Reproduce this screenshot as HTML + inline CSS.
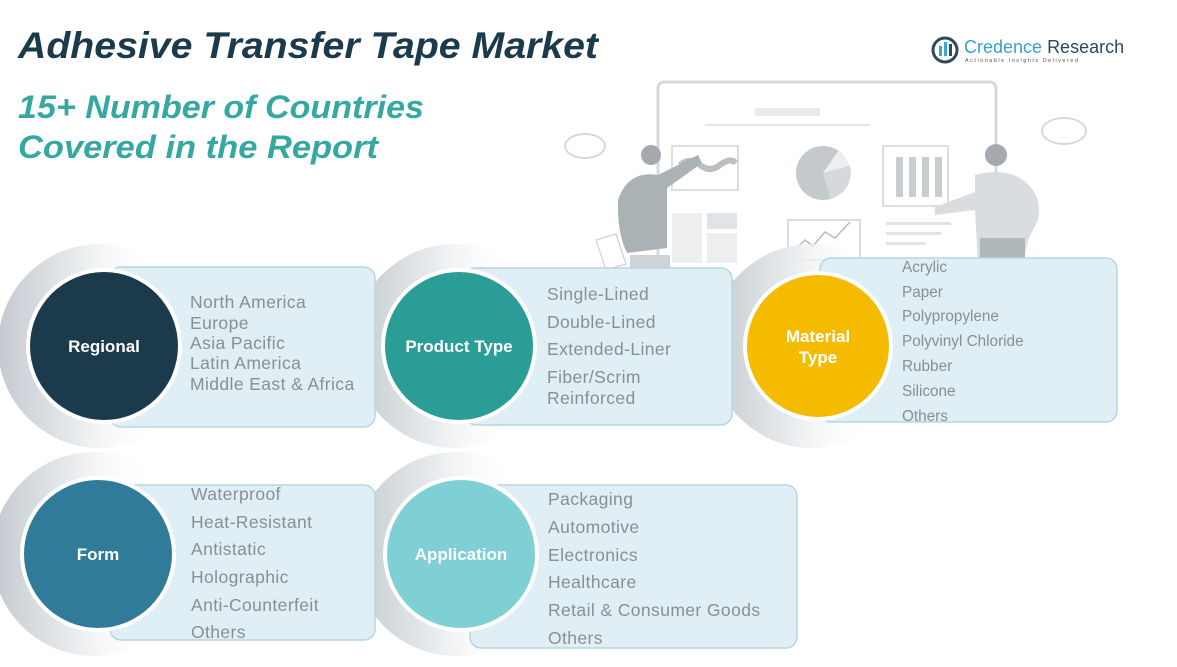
<!DOCTYPE html>
<html><head><meta charset="utf-8"><style>
html,body{margin:0;padding:0;background:#fff;}
svg{display:block;}
text{font-family:"Liberation Sans",sans-serif;}
</style></head><body>
<svg width="1177" height="667" viewBox="0 0 1177 667" xmlns="http://www.w3.org/2000/svg">
<defs>
<linearGradient id="ring" x1="0" y1="0" x2="1" y2="0">
<stop offset="0" stop-color="#c3cacf"/><stop offset="0.4" stop-color="#e9ecee"/><stop offset="0.8" stop-color="#ffffff" stop-opacity="0"/>
</linearGradient>
</defs>
<rect width="1177" height="667" fill="#fff"/>
<text x="18" y="58" font-size="37" font-weight="bold" font-style="italic" fill="#1b3a4b" textLength="580" lengthAdjust="spacingAndGlyphs">Adhesive Transfer Tape Market</text>
<text x="18" y="118" font-size="32" font-weight="bold" font-style="italic" fill="#36a8a2" textLength="406" lengthAdjust="spacingAndGlyphs">15+ Number of Countries</text>
<text x="18" y="158" font-size="32" font-weight="bold" font-style="italic" fill="#36a8a2" textLength="360" lengthAdjust="spacingAndGlyphs">Covered in the Report</text>
<circle cx="945" cy="50" r="12" fill="none" stroke="#2c4a5c" stroke-width="3"/>
<rect x="939" y="46" width="3" height="10" fill="#3aa7d6"/><rect x="944" y="42" width="3" height="14" fill="#3aa7d6"/><rect x="949" y="44" width="3" height="12" fill="#2c4a5c"/>
<text x="964" y="53" font-size="18" fill="#3a9fd0">Credence <tspan fill="#2c4a5c">Research</tspan></text>
<text x="965" y="62" font-size="5.5" fill="#555" letter-spacing="1.5">Actionable Insights Delivered</text>
<g fill="none" stroke="#d6d9db" stroke-width="3">
<rect x="658" y="82" width="338" height="200" rx="6"/>
</g>
<rect x="755" y="108" width="65" height="8" fill="#e8eaec"/>
<rect x="705" y="124" width="165" height="2" fill="#e3e5e7"/>
<rect x="672" y="146" width="66" height="44" fill="none" stroke="#dcdfe1" stroke-width="2"/>
<path d="M680 165 q10 -8 20 0 t20 0 t16 -2" stroke="#b9bfc3" stroke-width="6" fill="none"/>
<circle cx="823" cy="173" r="27" fill="#c4c9cc"/>
<path d="M823 173 L838 151 A27 27 0 0 1 850 166 Z" fill="#eceeef"/>
<path d="M823 173 L850 166 A27 27 0 0 1 830 199 Z" fill="#d5d9db"/>
<rect x="883" y="146" width="65" height="60" fill="none" stroke="#dcdfe1" stroke-width="2"/>
<rect x="896" y="157" width="7" height="40" fill="#c8cdd0"/><rect x="909" y="157" width="7" height="40" fill="#c8cdd0"/><rect x="922" y="157" width="7" height="40" fill="#c8cdd0"/><rect x="935" y="157" width="7" height="40" fill="#c8cdd0"/>
<rect x="672" y="213" width="30" height="50" fill="#eceeef"/><rect x="707" y="213" width="30" height="16" fill="#e1e4e6"/><rect x="707" y="233" width="30" height="30" fill="#eceeef"/>
<rect x="788" y="220" width="72" height="40" fill="none" stroke="#dcdfe1" stroke-width="2"/>
<path d="M795 250 l10 -10 l8 6 l12 -14 l10 6 l15 -16" stroke="#b5bbbf" stroke-width="1.5" fill="none"/>
<rect x="886" y="222" width="65" height="3" fill="#e1e4e6"/><rect x="886" y="232" width="55" height="3" fill="#e1e4e6"/><rect x="886" y="242" width="40" height="3" fill="#e1e4e6"/>
<circle cx="651" cy="155" r="10" fill="#a3aaaf"/>
<path d="M618 200 q10 -30 40 -25 l40 -20 l4 8 l-35 25 l0 60 l-40 5 q-10 -20 -9 -53z" fill="#abb2b6"/>
<rect x="630" y="255" width="40" height="15" fill="#cfd3d6"/>
<path d="M596 240 l20 -6 l10 30 l-20 6z" fill="#fff" stroke="#c4c8cb"/>
<circle cx="996" cy="155" r="11" fill="#a3aaaf"/>
<path d="M975 175 q30 -8 48 5 q20 15 15 40 l-10 20 l-5 25 l-45 0 l-3 -55 l-40 5 l0 -8 l40 -15z" fill="#d9dde0"/>
<rect x="980" y="238" width="45" height="20" fill="#b1b8bc"/>
<g fill="none" stroke="#d6d9db" stroke-width="2">
<ellipse cx="585" cy="146" rx="20" ry="12"/><ellipse cx="1064" cy="131" rx="22" ry="13"/>
</g>
<circle cx="100" cy="346" r="102" fill="url(#ring)"/>
<circle cx="455" cy="346" r="102" fill="url(#ring)"/>
<circle cx="812" cy="346" r="102" fill="url(#ring)"/>
<circle cx="94" cy="554" r="102" fill="url(#ring)"/>
<circle cx="456" cy="554" r="102" fill="url(#ring)"/>
<g fill="#e0eef5" stroke="#b7d5e2" stroke-width="1.5">
<rect x="110" y="267" width="265" height="160" rx="11"/>
<rect x="465" y="268" width="267" height="157" rx="11"/>
<rect x="820" y="258" width="297" height="164" rx="11"/>
<rect x="110" y="485" width="265" height="155" rx="11"/>
<rect x="470" y="485" width="327" height="163" rx="11"/>
</g>
<circle cx="104" cy="346" r="78" fill="#fff"/><circle cx="104" cy="346" r="74" fill="#1b3a4b"/>
<circle cx="459" cy="346" r="78" fill="#fff"/><circle cx="459" cy="346" r="74" fill="#2a9d97"/>
<circle cx="818" cy="346" r="75" fill="#fff"/><circle cx="818" cy="346" r="71" fill="#f5bb00"/>
<circle cx="98" cy="554" r="78" fill="#fff"/><circle cx="98" cy="554" r="74" fill="#2f7b99"/>
<circle cx="461" cy="554" r="78" fill="#fff"/><circle cx="461" cy="554" r="74" fill="#7fd0d4"/>
<g font-weight="bold" fill="#fff" font-size="17" text-anchor="middle">
<text x="104" y="352">Regional</text>
<text x="459" y="352">Product Type</text>
<text x="818" y="342">Material</text><text x="818" y="363">Type</text>
<text x="98" y="560">Form</text>
<text x="461" y="560">Application</text>
</g>
<g fill="#8a8f93" font-size="17.5" letter-spacing="0.4">
<text x="190" y="308">North America</text><text x="190" y="329">Europe</text><text x="190" y="349">Asia Pacific</text><text x="190" y="369">Latin America</text><text x="190" y="390">Middle East &amp; Africa</text>
<text x="547" y="300">Single-Lined</text><text x="547" y="328">Double-Lined</text><text x="547" y="355">Extended-Liner</text><text x="547" y="383">Fiber/Scrim</text><text x="547" y="404">Reinforced</text>
<text x="191" y="500">Waterproof</text><text x="191" y="528">Heat-Resistant</text><text x="191" y="555">Antistatic</text><text x="191" y="583">Holographic</text><text x="191" y="611">Anti-Counterfeit</text><text x="191" y="638">Others</text>
<text x="548" y="505">Packaging</text><text x="548" y="533">Automotive</text><text x="548" y="561">Electronics</text><text x="548" y="588">Healthcare</text><text x="548" y="616">Retail &amp; Consumer Goods</text><text x="548" y="644">Others</text>
</g>
<g fill="#8a8f93" font-size="15.3">
<text x="902" y="272">Acrylic</text><text x="902" y="297">Paper</text><text x="902" y="321">Polypropylene</text><text x="902" y="346">Polyvinyl Chloride</text><text x="902" y="371">Rubber</text><text x="902" y="396">Silicone</text><text x="902" y="421">Others</text>
</g>
</svg>
</body></html>
